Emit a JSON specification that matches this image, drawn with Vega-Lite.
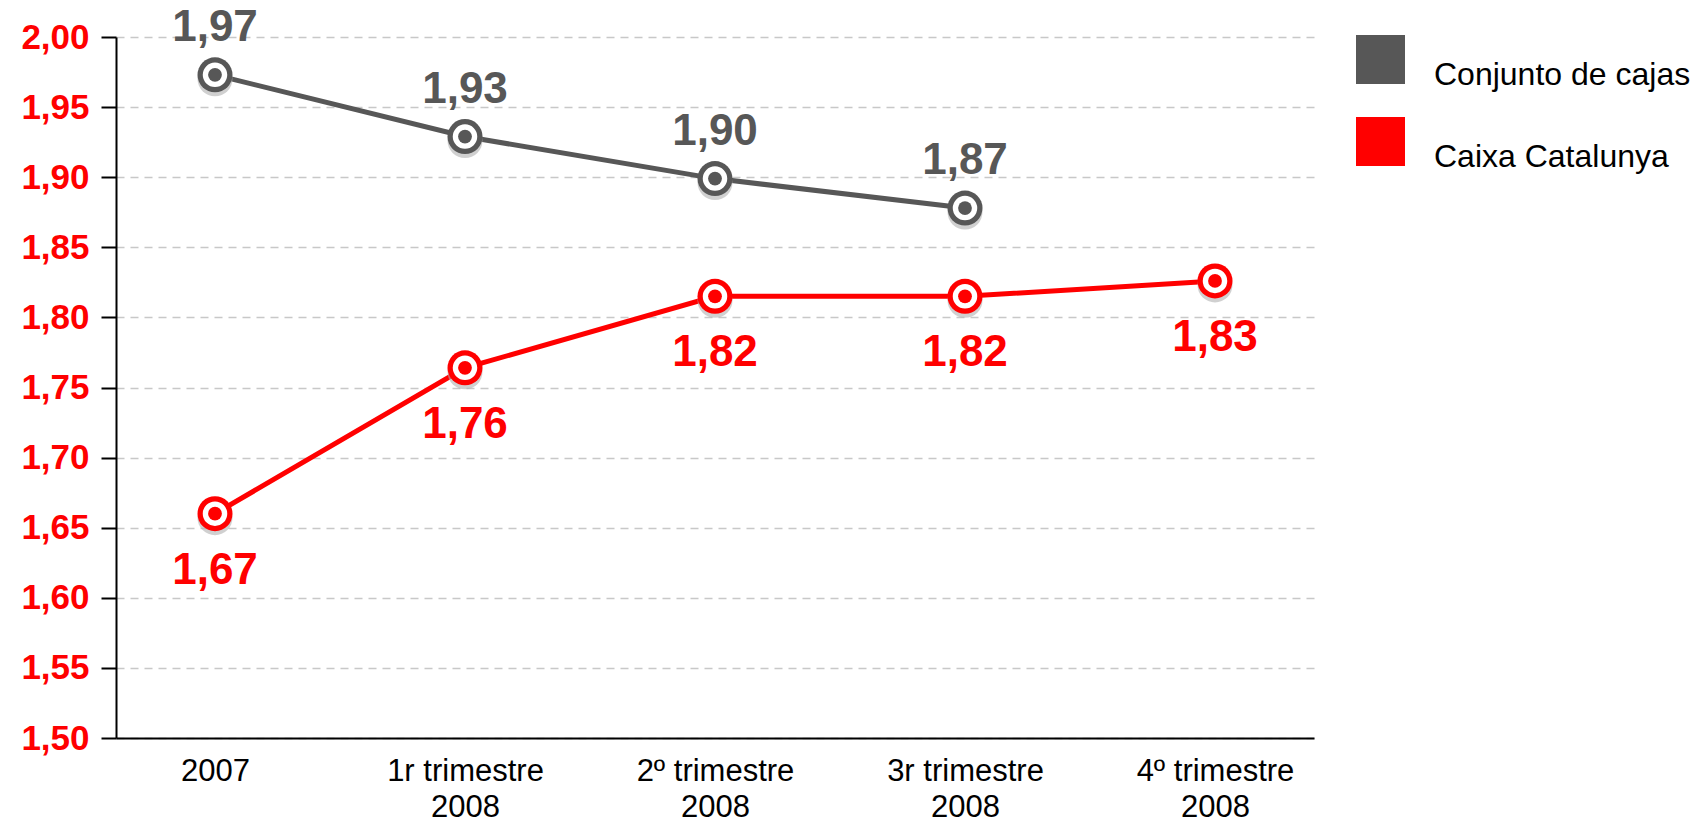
{
  "$schema": "https://vega.github.io/schema/vega-lite/v6.json",
  "width": 1198,
  "height": 701,
  "autosize": {"type": "none"},
  "padding": {"left": 116, "top": 37, "right": 389, "bottom": 85},
  "background": "white",
  "config": {
    "view": {"stroke": null},
    "font": "Liberation Sans"
  },
  "data": {
    "values": [
      {"periodo": "2007", "serie": "Conjunto de cajas", "valor": 1.973, "etiqueta": "1,97"},
      {"periodo": "1r trimestre|2008", "serie": "Conjunto de cajas", "valor": 1.929, "etiqueta": "1,93"},
      {"periodo": "2º trimestre|2008", "serie": "Conjunto de cajas", "valor": 1.899, "etiqueta": "1,90"},
      {"periodo": "3r trimestre|2008", "serie": "Conjunto de cajas", "valor": 1.878, "etiqueta": "1,87"},
      {"periodo": "2007", "serie": "Caixa Catalunya", "valor": 1.66, "etiqueta": "1,67"},
      {"periodo": "1r trimestre|2008", "serie": "Caixa Catalunya", "valor": 1.764, "etiqueta": "1,76"},
      {"periodo": "2º trimestre|2008", "serie": "Caixa Catalunya", "valor": 1.815, "etiqueta": "1,82"},
      {"periodo": "3r trimestre|2008", "serie": "Caixa Catalunya", "valor": 1.815, "etiqueta": "1,82"},
      {"periodo": "4º trimestre|2008", "serie": "Caixa Catalunya", "valor": 1.826, "etiqueta": "1,83"}
    ]
  },
  "encoding": {
    "x": {
      "field": "periodo",
      "type": "ordinal",
      "sort": null,
      "scale": {"type": "point", "padding": 0.396, "align": 0.5},
      "axis": {
        "title": null,
        "labelExpr": "split(datum.value, '|')",
        "labelAngle": 0,
        "labelFont": "Liberation Sans",
        "labelFontSize": 31,
        "labelColor": "#000000",
        "labelBaseline": "top",
        "labelLineHeight": 36,
        "labelPadding": 18,
        "ticks": false,
        "domainColor": "#000000",
        "domainWidth": 2,
        "grid": false
      }
    },
    "y": {
      "field": "valor",
      "type": "quantitative",
      "scale": {"domain": [1.5, 2.0], "zero": false, "nice": false},
      "axis": {
        "title": null,
        "values": [1.5, 1.55, 1.6, 1.65, 1.7, 1.75, 1.8, 1.85, 1.9, 1.95, 2.0],
        "labelExpr": "replace(format(datum.value, '.2f'), '.', ',')",
        "labelFont": "Liberation Sans",
        "labelFontSize": 35,
        "labelFontWeight": "bold",
        "labelColor": "#ff0000",
        "labelPadding": 12,
        "tickColor": "#000000",
        "tickSize": 15,
        "tickWidth": 2,
        "domainColor": "#000000",
        "domainWidth": 2,
        "grid": true,
        "gridColor": "#c8c8c8",
        "gridDash": [8, 6],
        "gridWidth": 1.5
      }
    },
    "color": {
      "field": "serie",
      "type": "nominal",
      "scale": {"domain": ["Conjunto de cajas", "Caixa Catalunya"], "range": ["#575757", "#ff0000"]},
      "legend": {
        "title": null,
        "orient": "none",
        "legendX": 1240,
        "legendY": -2,
        "padding": 0,
        "symbolType": "square",
        "symbolSize": 2401,
        "symbolStrokeWidth": 0,
        "rowPadding": 26,
        "labelOffset": 29,
        "labelFont": "Liberation Sans",
        "labelFontSize": 32,
        "labelColor": "#000000",
        "labelBaseline": "top",
        "labelLimit": 400,
        "encode": {
          "symbols": {"update": {"fill": {"scale": "color", "field": "value"}, "stroke": {"value": "transparent"}, "opacity": {"value": 1}}}
        }
      }
    }
  },
  "layer": [
    {"mark": {"type": "line", "strokeWidth": 5}},
    {"mark": {"type": "point", "filled": true, "size": 1225, "opacity": 0.6, "yOffset": 4}, "encoding": {"color": {"value": "#b0b0b0"}}},
    {"mark": {"type": "point", "filled": true, "size": 1225, "opacity": 1}},
    {"mark": {"type": "point", "filled": true, "size": 600, "opacity": 1}, "encoding": {"color": {"value": "white"}}},
    {"mark": {"type": "point", "filled": true, "size": 190, "opacity": 1}},
    {
      "transform": [{"filter": "datum.serie == 'Conjunto de cajas'"}],
      "mark": {"type": "text", "dy": -47, "fontSize": 44, "fontWeight": "bold", "font": "Liberation Sans"},
      "encoding": {"text": {"field": "etiqueta"}}
    },
    {
      "transform": [{"filter": "datum.serie == 'Caixa Catalunya'"}],
      "mark": {"type": "text", "dy": 57, "fontSize": 44, "fontWeight": "bold", "font": "Liberation Sans"},
      "encoding": {"text": {"field": "etiqueta"}}
    }
  ]
}
